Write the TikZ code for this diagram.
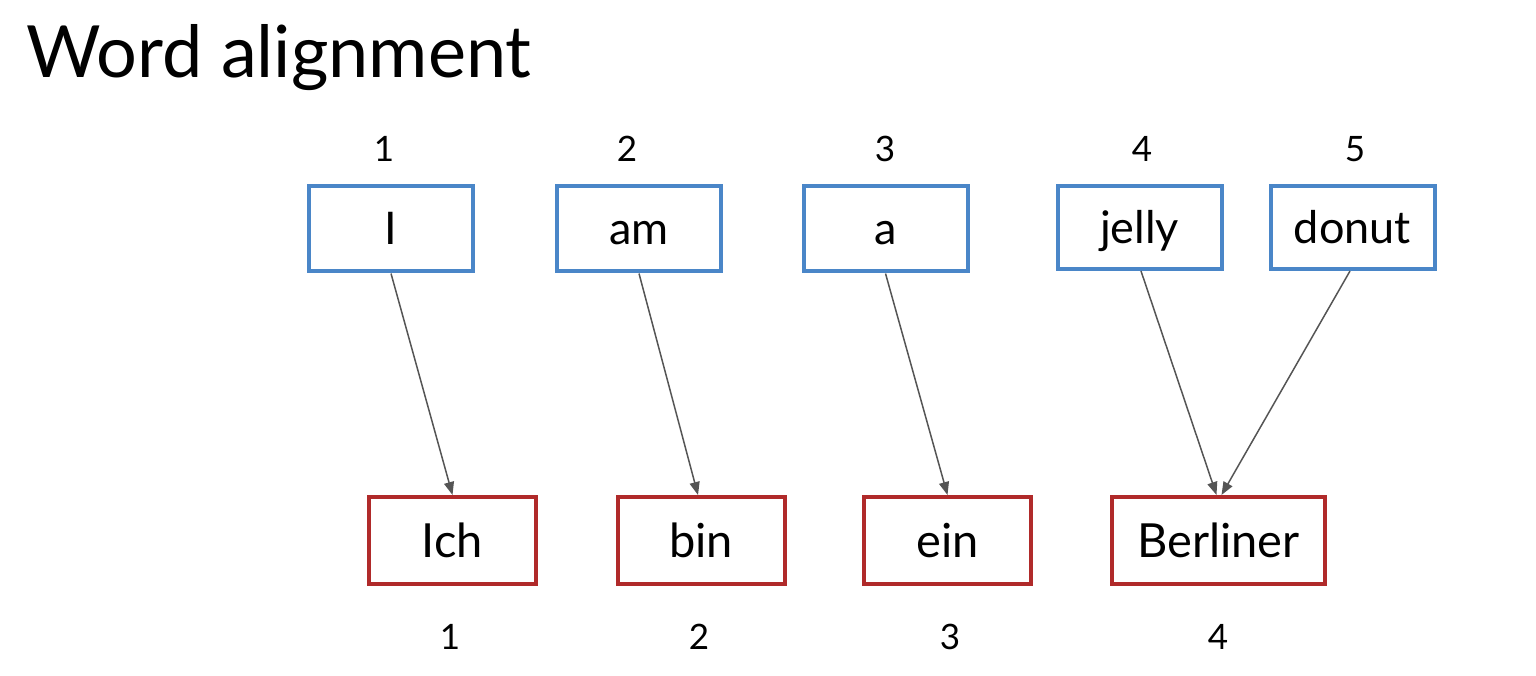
\documentclass[tikz,border=0pt]{standalone}
\usepackage{fontspec}
\setmainfont{Lato}
\usetikzlibrary{arrows.meta,calc}
\definecolor{srcblue}{HTML}{4A86C8}
\definecolor{tgtred}{HTML}{B02A2A}
\definecolor{linkgray}{HTML}{555555}
\tikzset{
  srcbox/.style={draw=srcblue, line width=4pt, fill=white, inner sep=0pt,
    minimum width=164pt, minimum height=85pt,
    font=\fontsize{45}{50}\selectfont, text height=32pt, text depth=0pt},
  tgtbox/.style={draw=tgtred, line width=4pt, fill=white, inner sep=0pt,
    minimum width=167pt, minimum height=87pt,
    font=\fontsize{47}{52}\selectfont, text height=33pt, text depth=0pt},
  idx/.style={anchor=base, inner sep=0pt, font=\fontsize{35}{40}\selectfont},
  link/.style={draw=linkgray, line width=1.5pt,
    -{Triangle[length=13pt,width=10pt]}}
}
\begin{document}
\begin{tikzpicture}[x=1pt,y=-1pt]
  \useasboundingbox (0,0) rectangle (1536,676);

  % title
  \node[anchor=base west, inner sep=0pt, font=\fontsize{72}{80}\selectfont]
    (title) at (26,78) {Word alignment};

  % English words
  \node[srcbox] (I)     at (391,229)    {I};
  \node[srcbox] (am)    at (639,229)    {am};
  \node[srcbox] (a)     at (885.5,229)  {a};
  \node[srcbox, minimum height=83pt] (jelly) at (1139.5,227.5) {jelly};
  \node[srcbox, minimum height=83pt] (donut) at (1352.5,227.5) {donut};

  % English positions
  \node[idx] (n1) at (384,162)  {1};
  \node[idx] (n2) at (627,162)  {2};
  \node[idx] (n3) at (885,162)  {3};
  \node[idx] (n4) at (1142,162) {4};
  \node[idx] (n5) at (1355,162) {5};

  % German words
  \node[tgtbox] (Ich)      at (452.5,540.5)  {Ich};
  \node[tgtbox] (bin)      at (701,540.5)    {bin};
  \node[tgtbox] (ein)      at (947.5,540.5)  {ein};
  \node[tgtbox, minimum width=213pt] (Berliner) at (1218.5,540.5) {Berliner};

  % German positions
  \node[idx] (m1) at (450,649)  {1};
  \node[idx] (m2) at (699,649)  {2};
  \node[idx] (m3) at (950,649)  {3};
  \node[idx] (m4) at (1218,649) {4};

  % alignment links
  \draw[link] (I.south) -- (Ich.north);
  \draw[link] (am.south) -- ($(bin.north)+(-3,0)$);
  \draw[link] (a.south) -- (ein.north);
  \draw[link] ($(jelly.south)+(1.5,0)$) -- ($(Berliner.north)+(-2,0)$);
  \draw[link] ($(donut.south)+(-2.5,0)$) -- ($(Berliner.north)+(3,0)$);
\end{tikzpicture}
\end{document}
